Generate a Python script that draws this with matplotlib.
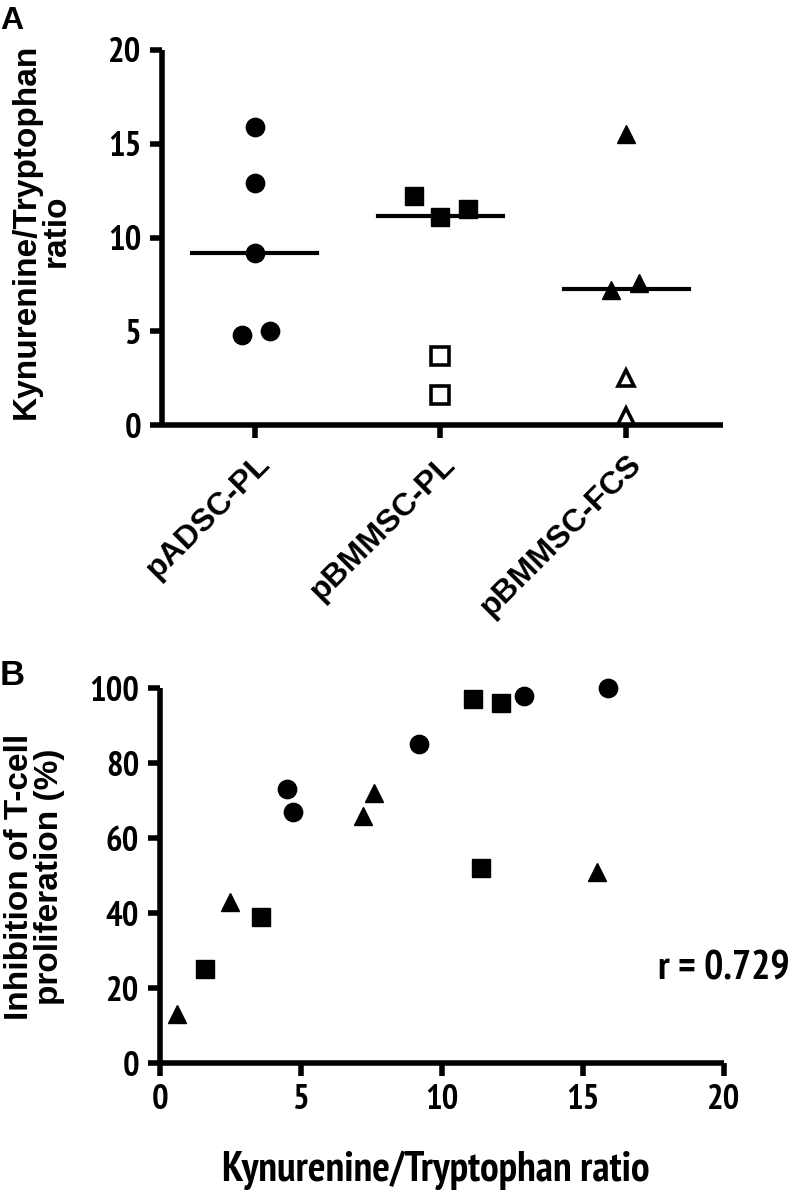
import matplotlib
matplotlib.use("Agg")
import numpy as np
import matplotlib.pyplot as plt

plt.rcParams["font.family"] = ["Liberation Sans", "DejaVu Sans"]
plt.rcParams["font.weight"] = "bold"

# Panel A: kynurenine/tryptophan ratio per cell type
groups = ["pADSC-PL", "pBMMSC-PL", "pBMMSC-FCS"]
adsc_filled = [15.9, 12.9, 9.2, 4.8, 5.0]
adsc_offset = [0.0, 0.0, 0.0, -0.07, 0.08]
bm_pl_filled = [12.2, 11.1, 11.5]
bm_pl_filled_offset = [-0.14, 0.0, 0.15]
bm_pl_open = [3.7, 1.6]
bm_fcs_filled = [15.5, 7.2, 7.6]
bm_fcs_filled_offset = [0.0, -0.08, 0.07]
bm_fcs_open = [2.5, 0.5]
medians = [9.2, 11.15, 7.25]

# Panel B: inhibition of T-cell proliferation vs ratio
circ_x = [15.9, 12.9, 9.2, 4.5, 4.7]
circ_y = [100, 98, 85, 73, 67]
sq_x = [11.1, 12.1, 11.4, 3.6, 1.6]
sq_y = [97, 96, 52, 39, 25]
tri_x = [0.6, 2.5, 7.2, 7.6, 15.5]
tri_y = [13, 43, 66, 72, 51]

narrow = ["PT Sans Narrow", "Liberation Sans", "DejaVu Sans"]

fig = plt.figure(figsize=(7.92, 11.96), dpi=100)

ms = 13.2
lw_axis = 4.0


def style_axes(ax):
    for side in ["top", "right"]:
        ax.spines[side].set_visible(False)
    for side in ["left", "bottom"]:
        ax.spines[side].set_linewidth(lw_axis)
        ax.spines[side].set_capstyle("butt")
    ax.tick_params(width=lw_axis, length=9, labelsize=25, pad=6)
    for lab in ax.get_yticklabels():
        lab.set_family(narrow)
        lab.set_weight("bold")


# ---- Panel A ----
axA = fig.add_axes([0.2045, 0.6446, 0.708, 0.3136])
x_pos = np.arange(len(groups))
axA.plot(x_pos[0] + np.array(adsc_offset), adsc_filled, "o", color="black", ms=ms, clip_on=False)
axA.plot(x_pos[1] + np.array(bm_pl_filled_offset), bm_pl_filled, "s", color="black", ms=ms,
         clip_on=False)
axA.plot([x_pos[1]] * len(bm_pl_open), bm_pl_open, "s", mfc="white", mec="black", mew=2.6,
         ms=ms, clip_on=False)
axA.plot(x_pos[2] + np.array(bm_fcs_filled_offset), bm_fcs_filled, "^", color="black", ms=ms,
         clip_on=False)
axA.plot([x_pos[2]] * len(bm_fcs_open), bm_fcs_open, "^", mfc="white", mec="black", mew=2.6,
         ms=ms - 1, clip_on=False, zorder=5)
for i, m in enumerate(medians):
    axA.plot([x_pos[i] - 0.336, x_pos[i] + 0.336], [m, m], color="black", lw=3.0)

axA.set_xlim(-0.5, 2.52)
axA.set_ylim(0, 20)
axA.set_yticks([0, 5, 10, 15, 20])
axA.set_xticks(x_pos)
axA.set_xticklabels(groups, rotation=45, ha="right", rotation_mode="anchor", fontsize=23,
                    fontweight="bold", family=["Liberation Sans", "DejaVu Sans"])
style_axes(axA)
axA.tick_params(axis="x", labelsize=23, pad=8)
fig.text(0.052, 0.807, "Kynurenine/Tryptophan\nratio", rotation=90, ha="center", va="center",
         fontsize=24, fontweight="bold", linespacing=0.95)
fig.text(0.0, 0.995, "A", fontsize=23, fontweight="bold", va="top", ha="left")

# ---- Panel B ----
axB = fig.add_axes([0.202, 0.1112, 0.712, 0.3135])
axB.plot(circ_x, circ_y, "o", color="black", ms=ms, clip_on=False)
axB.plot(sq_x, sq_y, "s", color="black", ms=ms, clip_on=False)
axB.plot(tri_x, tri_y, "^", color="black", ms=ms, clip_on=False)
axB.set_xlim(0, 20)
axB.set_ylim(0, 100)
axB.set_xticks([0, 5, 10, 15, 20])
axB.set_yticks([0, 20, 40, 60, 80, 100])
style_axes(axB)
for lab in axB.get_xticklabels():
    lab.set_family(narrow)
    lab.set_weight("bold")
fig.text(0.55, 0.005, "Kynurenine/Tryptophan ratio", ha="center", va="bottom", fontsize=30,
         fontweight="bold", family=narrow)
fig.text(0.044, 0.267, "Inhibition of T-cell\nproliferation (%)", rotation=90, ha="center",
         va="center", fontsize=24, fontweight="bold", linespacing=0.95)
axB.text(1.117, 0.25, "r = 0.729", transform=axB.transAxes, ha="right", va="center",
         fontsize=29, fontweight="bold", family=narrow)
fig.text(0.0, 0.449, "B", fontsize=25, fontweight="bold", va="top", ha="left")

fig.savefig("out.png", dpi=100)
